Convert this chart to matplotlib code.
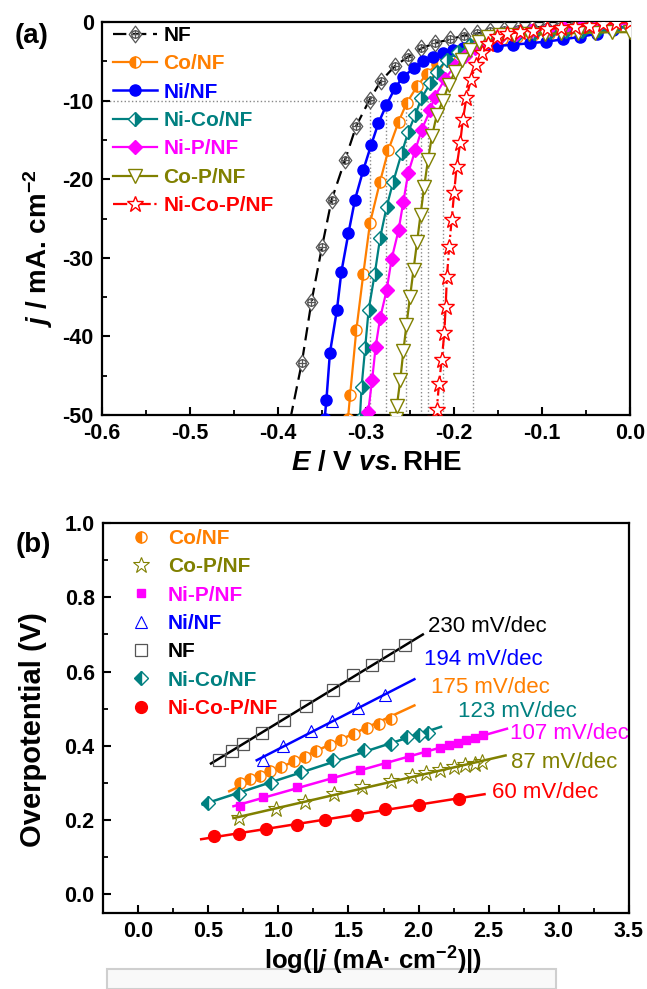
import matplotlib
matplotlib.use("Agg")
import matplotlib.pyplot as plt
import numpy as np
from matplotlib.path import Path
from matplotlib.patches import Rectangle

plt.rcParams['font.family'] = ['Liberation Sans', 'DejaVu Sans']
plt.rcParams['font.weight'] = 'bold'
plt.rcParams['mathtext.fontset'] = 'custom'
plt.rcParams['mathtext.rm'] = 'Liberation Sans:bold'
plt.rcParams['mathtext.bf'] = 'Liberation Sans:bold'
plt.rcParams['mathtext.it'] = 'Liberation Sans:italic:bold'

# ---------------- (a) polarization curves: E (V vs RHE), j (mA cm-2)
nf_E = [-0.386, -0.373, -0.362, -0.350, -0.339, -0.324, -0.311, -0.296, -0.283, -0.267, -0.252, -0.237,
        -0.222, -0.205, -0.189, -0.174, -0.159, -0.143, -0.127, -0.111, -0.095, -0.079, -0.063, -0.047,
        -0.031, -0.016, 0.0]
nf_j = [-50.5, -43.4, -35.6, -28.6, -22.6, -17.6, -13.2, -9.9, -7.5, -5.6, -4.4, -3.35,
        -2.7, -2.2, -1.75, -1.45, -1.2, -1.0, -0.85, -0.7, -0.6, -0.5, -0.4, -0.3,
        -0.2, -0.1, 0.0]

co_E = [-0.3205, -0.318, -0.311, -0.303, -0.2955, -0.284, -0.2746, -0.263, -0.2538, -0.242, -0.231,
        -0.219, -0.206, -0.192, -0.177, -0.161, -0.145, -0.128, -0.110, -0.092, -0.073, -0.055,
        -0.037, -0.018, 0.0]
co_j = [-50.5, -47.4, -39.2, -32.0, -25.6, -20.3, -16.3, -12.7, -10.3, -8.2, -6.6,
        -5.3, -4.3, -3.5, -2.9, -2.4, -2.1, -1.9, -1.7, -1.5, -1.35, -1.2,
        -1.0, -0.8, -0.5]

ni_E = [-0.347, -0.345, -0.341, -0.333, -0.328, -0.320, -0.3125, -0.303, -0.294, -0.286, -0.277,
        -0.267, -0.258, -0.246, -0.235, -0.224, -0.212, -0.201, -0.190, -0.178, -0.165, -0.151,
        -0.133, -0.114, -0.095, -0.076, -0.057, -0.038, -0.019, 0.0]
ni_j = [-50.5, -48.1, -42.1, -36.6, -31.8, -26.9, -22.6, -18.8, -15.6, -12.9, -10.6,
        -8.4, -7.0, -5.9, -5.0, -4.4, -4.0, -3.6, -3.35, -3.2, -3.1, -3.05,
        -2.9, -2.7, -2.5, -2.2, -1.9, -1.5, -1.0, -0.4]

nico_E = [-0.307, -0.305, -0.301, -0.297, -0.290, -0.284, -0.2765, -0.269, -0.2595, -0.252, -0.244,
          -0.237, -0.227, -0.2197, -0.208, -0.195, -0.182, -0.163, -0.145, -0.127, -0.109, -0.091,
          -0.073, -0.055, -0.036, -0.018, 0.0]
nico_j = [-50.5, -46.4, -41.5, -36.6, -32.0, -27.5, -23.5, -20.3, -16.7, -14.0, -11.8,
          -9.7, -7.8, -6.3, -4.8, -3.8, -2.9, -2.1, -1.7, -1.5, -1.4, -1.3,
          -1.2, -1.1, -1.0, -0.8, -0.6]

nip_E = [-0.2975, -0.293, -0.289, -0.284, -0.2765, -0.2708, -0.263, -0.2576, -0.252, -0.244, -0.2367,
         -0.227, -0.222, -0.210, -0.199, -0.188, -0.176, -0.163, -0.148, -0.130, -0.112, -0.094,
         -0.075, -0.056, -0.037, -0.018, 0.0]
nip_j = [-49.6, -45.5, -41.3, -37.7, -34.1, -30.1, -26.5, -22.9, -19.2, -16.3, -13.7,
         -11.2, -9.5, -7.2, -5.6, -4.3, -3.3, -2.5, -1.9, -1.5, -1.2, -1.0,
         -0.8, -0.6, -0.45, -0.3, -0.15]

cop_E = [-0.266, -0.265, -0.261, -0.2576, -0.254, -0.250, -0.246, -0.242, -0.238, -0.234, -0.2295,
         -0.225, -0.2195, -0.2125, -0.206, -0.199, -0.191, -0.182, -0.172, -0.161, -0.148, -0.132,
         -0.115, -0.097, -0.078, -0.059, -0.040, -0.020, 0.0]
cop_j = [-50.5, -48.9, -45.5, -41.9, -38.5, -35.0, -31.5, -28.0, -24.5, -21.0, -17.5,
         -14.5, -11.8, -10.0, -8.0, -6.3, -4.8, -3.6, -2.6, -1.9, -1.7, -1.6,
         -1.55, -1.5, -1.45, -1.4, -1.35, -1.3, -1.3]

nicop_E = [-0.2215, -0.2197, -0.217, -0.214, -0.211, -0.2095, -0.208, -0.2055, -0.2027, -0.1999, -0.197,
           -0.193, -0.190, -0.186, -0.181, -0.1755, -0.1686, -0.161, -0.1515, -0.140, -0.125, -0.110,
           -0.094, -0.078, -0.062, -0.047, -0.031, -0.016, 0.0]
nicop_j = [-50.5, -49.4, -46.0, -43.0, -39.6, -36.2, -32.4, -28.6, -25.2, -21.8, -18.4,
           -15.4, -12.5, -9.7, -7.4, -5.5, -4.0, -2.8, -1.9, -1.5, -1.3, -1.1,
           -0.9, -0.75, -0.6, -0.45, -0.3, -0.15, 0.0]

# potentials at -10 mA cm-2 (dotted guides)
E_at_10 = [-0.296, -0.277, -0.254, -0.238, -0.229, -0.212, -0.178]

# ---------------- (b) Tafel plots: log|j|, overpotential (V)
t_co_x = [0.73, 0.80, 0.87, 0.94, 1.02, 1.11, 1.19, 1.27, 1.37, 1.45, 1.54, 1.63, 1.72, 1.80]
t_co_y = [0.300, 0.310, 0.320, 0.331, 0.344, 0.358, 0.371, 0.387, 0.402, 0.415, 0.432, 0.447, 0.460, 0.472]
t_cop_x = [0.72, 0.98, 1.19, 1.40, 1.60, 1.80, 1.95, 2.05, 2.15, 2.25, 2.33, 2.40, 2.45]
t_cop_y = [0.205, 0.230, 0.250, 0.270, 0.289, 0.305, 0.318, 0.326, 0.334, 0.342, 0.348, 0.352, 0.356]
t_nip_x = [0.73, 0.89, 1.13, 1.38, 1.58, 1.77, 1.93, 2.05, 2.15, 2.22, 2.28, 2.34, 2.40, 2.46]
t_nip_y = [0.237, 0.262, 0.290, 0.313, 0.336, 0.352, 0.370, 0.383, 0.394, 0.402, 0.409, 0.416, 0.422, 0.428]
t_ni_x = [0.89, 1.03, 1.23, 1.38, 1.57, 1.76]
t_ni_y = [0.363, 0.400, 0.439, 0.466, 0.502, 0.538]
t_nf_x = [0.58, 0.67, 0.75, 0.88, 1.04, 1.20, 1.39, 1.53, 1.67, 1.78, 1.90]
t_nf_y = [0.363, 0.385, 0.405, 0.435, 0.470, 0.508, 0.551, 0.590, 0.618, 0.645, 0.672]
t_nico_x = [0.50, 0.72, 0.95, 1.16, 1.39, 1.61, 1.80, 1.92, 2.00, 2.07]
t_nico_y = [0.245, 0.270, 0.300, 0.330, 0.362, 0.390, 0.405, 0.425, 0.430, 0.435]
t_nicop_x = [0.54, 0.72, 0.91, 1.13, 1.33, 1.56, 1.76, 2.00, 2.29]
t_nicop_y = [0.157, 0.164, 0.176, 0.188, 0.200, 0.215, 0.230, 0.242, 0.257]

tafel_slopes = [0.175, 0.087, 0.107, 0.194, 0.230, 0.123, 0.060]
fit_ranges = [(0.65, 1.97), (0.68, 2.62), (0.68, 2.63), (0.846, 1.97), (0.52, 2.03), (0.46, 2.16), (0.45, 2.47)]
slope_labels = ["175 mV/dec", "87 mV/dec", "107 mV/dec", "194 mV/dec", "230 mV/dec", "123 mV/dec", "60 mV/dec"]
label_pos = [(2.09, 0.558), (2.66, 0.355), (2.65, 0.433), (2.04, 0.632), (2.07, 0.721), (2.28, 0.493), (2.52, 0.274)]

C_NF = '#000000'
C_CO = '#FF7F00'
C_NI = '#0000FF'
C_NICO = '#008080'
C_NIP = '#FF00FF'
C_COP = '#808000'
C_NICOP = '#FF0000'

# diamond with circle and cross, for NF
diamond = Path([(0, 1), (0.75, 0), (0, -1), (-0.75, 0), (0, 1)],
               [Path.MOVETO, Path.LINETO, Path.LINETO, Path.LINETO, Path.CLOSEPOLY])
ring = Path.circle((0, 0), 0.45)
cross = Path([(-0.45, 0), (0.45, 0), (0, -0.45), (0, 0.45)],
             [Path.MOVETO, Path.LINETO, Path.MOVETO, Path.LINETO])
nf_marker = Path.make_compound_path(diamond, ring, cross)

W, H = 647, 989
fig = plt.figure(figsize=(W / 100, H / 100), dpi=100)

def ax_rect(l, t, r, b):
    return [l / W, 1 - b / H, (r - l) / W, (b - t) / H]

ax1 = fig.add_axes(ax_rect(102, 22, 630, 415))
ax2 = fig.add_axes(ax_rect(103, 523, 629, 913))

# ---- panel (a)
ax1.plot([-0.6, E_at_10[-1]], [-10, -10], ls=':', color='#888888', lw=1.0, zorder=1)
for e in E_at_10:
    ax1.plot([e, e], [-50, -10], ls=':', color='#888888', lw=1.0, zorder=1)

ax1.plot(nf_E, nf_j, ls=(0, (6, 3)), color=C_NF, lw=1.6, marker=nf_marker, ms=12, mfc='white',
         mec='#555555', mew=0.9, markevery=list(range(1, len(nf_E))), label='NF', zorder=3)
ax1.plot(co_E, co_j, '-', color=C_CO, lw=1.6, marker='o', ms=8, fillstyle='left', mfc=C_CO,
         mfcalt='white', mec=C_CO, mew=1.0, label='Co/NF', zorder=3)
ax1.plot(ni_E, ni_j, '-', color=C_NI, lw=1.8, marker='o', ms=8, mfc=C_NI, mec=C_NI,
         label='Ni/NF', zorder=3)
ax1.plot(nico_E, nico_j, '-', color=C_NICO, lw=1.6, marker='D', ms=7.5, fillstyle='right', mfc=C_NICO,
         mfcalt='white', mec=C_NICO, mew=1.0, label='Ni-Co/NF', zorder=3)
ax1.plot(nip_E, nip_j, '-', color=C_NIP, lw=1.6, marker='D', ms=7.5, mfc=C_NIP, mec=C_NIP,
         label='Ni-P/NF', zorder=3)
ax1.plot(cop_E, cop_j, '-', color=C_COP, lw=1.6, marker='v', ms=10, mfc='white', mec=C_COP, mew=1.0,
         label='Co-P/NF', zorder=3)
ax1.plot(nicop_E, nicop_j, ls='-.', color=C_NICOP, lw=1.6, marker='*', ms=12, mfc='white',
         mec=C_NICOP, mew=1.0, label='Ni-Co-P/NF', zorder=3)

ax1.set_xlim(-0.6, 0.0)
ax1.set_ylim(-50, 0)
ax1.set_xticks(np.arange(-0.6, 0.01, 0.1))
ax1.set_xticks(np.arange(-0.6, 0.01, 0.05), minor=True)
ax1.set_yticks(np.arange(-50, 1, 10))
ax1.set_yticks(np.arange(-50, 1, 5), minor=True)
ax1.set_xticklabels(['-0.6', '-0.5', '-0.4', '-0.3', '-0.2', '-0.1', '0.0'])
ax1.set_yticklabels(['-50', '-40', '-30', '-20', '-10', '0'])

leg1 = ax1.legend(loc='upper left', bbox_to_anchor=(0.02, 0.99), frameon=False, fontsize=15,
                  handlelength=2.15, handletextpad=0.3, labelspacing=0.45, borderpad=0, borderaxespad=0)
for t, c in zip(leg1.get_texts(), [C_NF, C_CO, C_NI, C_NICO, C_NIP, C_COP, C_NICOP]):
    t.set_color(c)

# ---- panel (b)
tx = [t_co_x, t_cop_x, t_nip_x, t_ni_x, t_nf_x, t_nico_x, t_nicop_x]
ty = [t_co_y, t_cop_y, t_nip_y, t_ni_y, t_nf_y, t_nico_y, t_nicop_y]
names = ['Co/NF', 'Co-P/NF', 'Ni-P/NF', 'Ni/NF', 'NF', 'Ni-Co/NF', 'Ni-Co-P/NF']
colors = [C_CO, C_COP, C_NIP, C_NI, '#000000', C_NICO, C_NICOP]
edge = [C_CO, C_COP, C_NIP, C_NI, '#555555', C_NICO, C_NICOP]
mk = [dict(marker='o', ms=8, fillstyle='left', mfc=C_CO, mfcalt='white', mew=1.0),
      dict(marker='*', ms=12, mfc='none', mew=0.8),
      dict(marker='s', ms=5.5, mfc=C_NIP),
      dict(marker='^', ms=9, mfc='none', mew=0.8),
      dict(marker='s', ms=8, mfc='none', mew=0.9),
      dict(marker='D', ms=7.5, fillstyle='left', mfc=C_NICO, mfcalt='white', mew=1.0),
      dict(marker='o', ms=8.5, mfc=C_NICOP)]

for x, y, s, (x0, x1), col in zip(tx, ty, tafel_slopes, fit_ranges, colors):
    xm, ym = np.mean(x), np.mean(y)
    xs = np.array([x0, x1])
    ax2.plot(xs, ym + s * (xs - xm), '-', color=col, lw=1.8, zorder=2)

for x, y, n, col, ec, m in zip(tx, ty, names, colors, edge, mk):
    ax2.plot(x, y, ls='none', mec=ec, label=n, zorder=3, **m)

for lab, (px, py), col in zip(slope_labels, label_pos, colors):
    ax2.text(px, py, lab, color=col, fontsize=16, fontweight='normal', ha='left', va='center',
             zorder=1)

ax2.set_xlim(-0.25, 3.5)
ax2.set_ylim(-0.05, 1.0)
ax2.set_xticks(np.arange(0, 3.51, 0.5))
ax2.set_xticks(np.arange(-0.25, 3.51, 0.25), minor=True)
ax2.set_yticks(np.arange(0, 1.01, 0.2))
ax2.set_yticks(np.arange(0, 1.01, 0.1), minor=True)
ax2.set_xticklabels(['%.1f' % v for v in np.arange(0, 3.51, 0.5)])
ax2.set_yticklabels(['%.1f' % v for v in np.arange(0, 1.01, 0.2)])

leg2 = ax2.legend(loc='upper left', bbox_to_anchor=(0.052, 0.985), frameon=False, fontsize=15,
                  handlelength=1.0, handletextpad=0.8, labelspacing=0.45, borderpad=0, borderaxespad=0,
                  numpoints=1)
for t, c in zip(leg2.get_texts(), colors):
    t.set_color(c)

for ax in (ax1, ax2):
    for sp in ax.spines.values():
        sp.set_linewidth(1.6)
    ax.tick_params(which='major', direction='in', length=6, width=1.5, labelsize=15.5, pad=6,
                   top=False, right=False)
    ax.tick_params(which='minor', direction='in', length=3.5, width=1.3, top=False, right=False)
    for lb in ax.get_xticklabels() + ax.get_yticklabels():
        lb.set_fontweight('bold')

def fx(px):
    return px / W

def fy(py):
    return 1 - py / H

fig.text(fx(32), fy(36), '(a)', fontsize=20, ha='center', va='center')
fig.text(fx(33), fy(545), '(b)', fontsize=20, ha='center', va='center')
fig.text(fx(38), fy(248), r'$j$ / mA. cm$^{-2}$', fontsize=20, rotation=90, ha='center', va='center')
fig.text(fx(376), fy(463), r'$E$ / V $vs.$RHE', fontsize=20, ha='center', va='center')
fig.text(fx(33), fy(730), 'Overpotential (V)', fontsize=21, rotation=90, ha='center', va='center')
fig.text(fx(373), fy(961), 'log(|$j$ (mA\u00b7 cm$^{-2}$)|)', fontsize=18.5, ha='center', va='center')

fig.patches.append(Rectangle((fx(107), 0), fx(556) - fx(107), fy(979) + 0.01, transform=fig.transFigure,
                             facecolor='#f9f9f9', edgecolor='#cfcfcf', lw=1.5, zorder=0))

fig.savefig('out.png', dpi=100)
